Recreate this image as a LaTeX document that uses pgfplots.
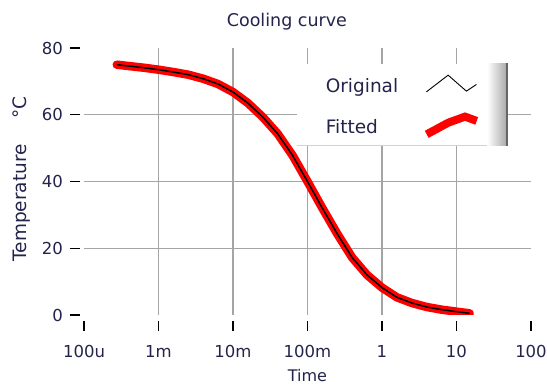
\documentclass[border=0pt]{standalone}
\usepackage{pgfplots}
\pgfplotsset{compat=1.18}
\usepackage{pgfplotstable}
\usepackage{fontspec}
\setmainfont{DejaVu Sans}
\definecolor{txt}{RGB}{35,35,75}
\definecolor{gridc}{RGB}{165,165,165}
\definecolor{fitred}{RGB}{255,0,0}

\pgfplotstableread{
t T
2.754e-4 75.0
3.981e-4 74.6
6.310e-4 74.1
1.000e-3 73.5
1.585e-3 72.8
2.512e-3 72.0
3.981e-3 70.8
6.310e-3 69.2
1.000e-2 66.8
1.585e-2 63.5
2.512e-2 59.3
3.981e-2 54.3
6.310e-2 47.8
1.000e-1 40.0
1.585e-1 32.0
2.512e-1 24.3
3.981e-1 17.2
6.310e-1 12.0
1.000 8.2
1.585 5.3
2.512 3.6
3.981 2.4
6.310 1.6
10.00 1.0
15.00 0.5
}\curve

\begin{document}
\begin{tikzpicture}
\path[use as bounding box] (-84pt,-72pt) rectangle (463pt,315pt);
\begin{axis}[
  at={(0pt,0pt)}, anchor=south west,
  scale only axis, width=447pt, height=267pt,
  xmode=log, xmin=1e-4, xmax=100, ymin=0, ymax=80,
  axis line style={draw=none},
  /pgf/number format/assume math mode=true,
  xtick={1e-4,1e-3,1e-2,1e-1,1,10,100},
  xticklabels={100u,1m,10m,100m,1,10,100},
  ytick={0,20,40,60,80},
  xminorticks=false, yminorticks=false,
  tick align=outside,
  xtick pos=left, ytick pos=left,
  major tick length=10pt,
  every tick/.style={black, line width=1.3pt},
  xtick style={yshift=-6pt},
  ytick style={xshift=-4pt},
  extra x ticks={1e-3,1e-2,1e-1,1,10},
  extra x tick labels={},
  extra x tick style={grid=major, major tick length=0pt, xtick style={yshift=6pt}},
  extra y ticks={20,40,60},
  extra y tick labels={},
  extra y tick style={grid=major, major tick length=0pt, ytick style={xshift=4pt}},
  major grid style={gridc, line width=1.3pt},
  ticklabel style={font=\fontsize{16.5}{19}\selectfont, text=txt},
  xticklabel style={anchor=base, inner sep=0pt, yshift=-33pt},
  yticklabel style={anchor=east, inner sep=0pt, xshift=-11pt},
  title={Cooling curve},
  title style={at={(axis description cs:0.454,1.101)}, anchor=center, inner sep=0pt, yshift=-7pt,
    font=\fontsize{17.5}{20}\selectfont, text=txt},
  xlabel={Time},
  xlabel style={at={(axis description cs:0.5,-0.225)}, anchor=center, inner sep=0pt,
    font=\fontsize{16}{19}\selectfont, text=txt},
  ylabel={Temperature\hspace{26pt}°C},
  ylabel style={at={(axis description cs:-0.139,0.51)}, anchor=center, inner sep=0pt,
    font=\fontsize{18.5}{22}\selectfont, text=txt},
  legend plot pos=right,
  legend cell align=left,
  legend style={at={(axis description cs:0.541,0.900)}, anchor=north west,
    draw=none, fill=none, inner sep=0pt, outer sep=0pt, row sep=19pt,
    font=\fontsize{18.5}{22}\selectfont, text=txt,
    nodes={inner sep=0pt}},
]
\addplot[fitred, line width=8.5pt, line cap=round, line join=round, forget plot] table[x=t, y=T] {\curve};
\addplot[black, line width=1.5pt, forget plot] table[x=t, y=T] {\curve};

\fill[white] (axis description cs:0.4765,0.633) rectangle (axis description cs:0.903,0.940);
\draw[gray!35, line width=1pt] (axis description cs:0.4765,0.633) -- (axis description cs:0.903,0.633);
\shade[left color=white, right color=gray!65] (axis description cs:0.902,0.633) rectangle (axis description cs:0.944,0.943);
\fill[gray!80!black] (axis description cs:0.943,0.633) rectangle (axis description cs:0.9485,0.943);

\addlegendimage{legend image code/.code={
  \path (0pt,0pt);
  \draw[black, line width=0.9pt] (28pt,-6pt) -- (49.7pt,10.7pt) -- (68pt,-5.3pt) -- (78pt,1.4pt);
}}
\addlegendentry{Original}
\addlegendimage{legend image code/.code={
  \path (0pt,0pt);
  \draw[fitred, line width=8pt] (28.3pt,-7pt) -- (50pt,4.7pt) -- (66.6pt,10.7pt) -- (78.3pt,6.4pt);
}}
\addlegendentry{Fitted}
\end{axis}
\end{tikzpicture}
\end{document}
